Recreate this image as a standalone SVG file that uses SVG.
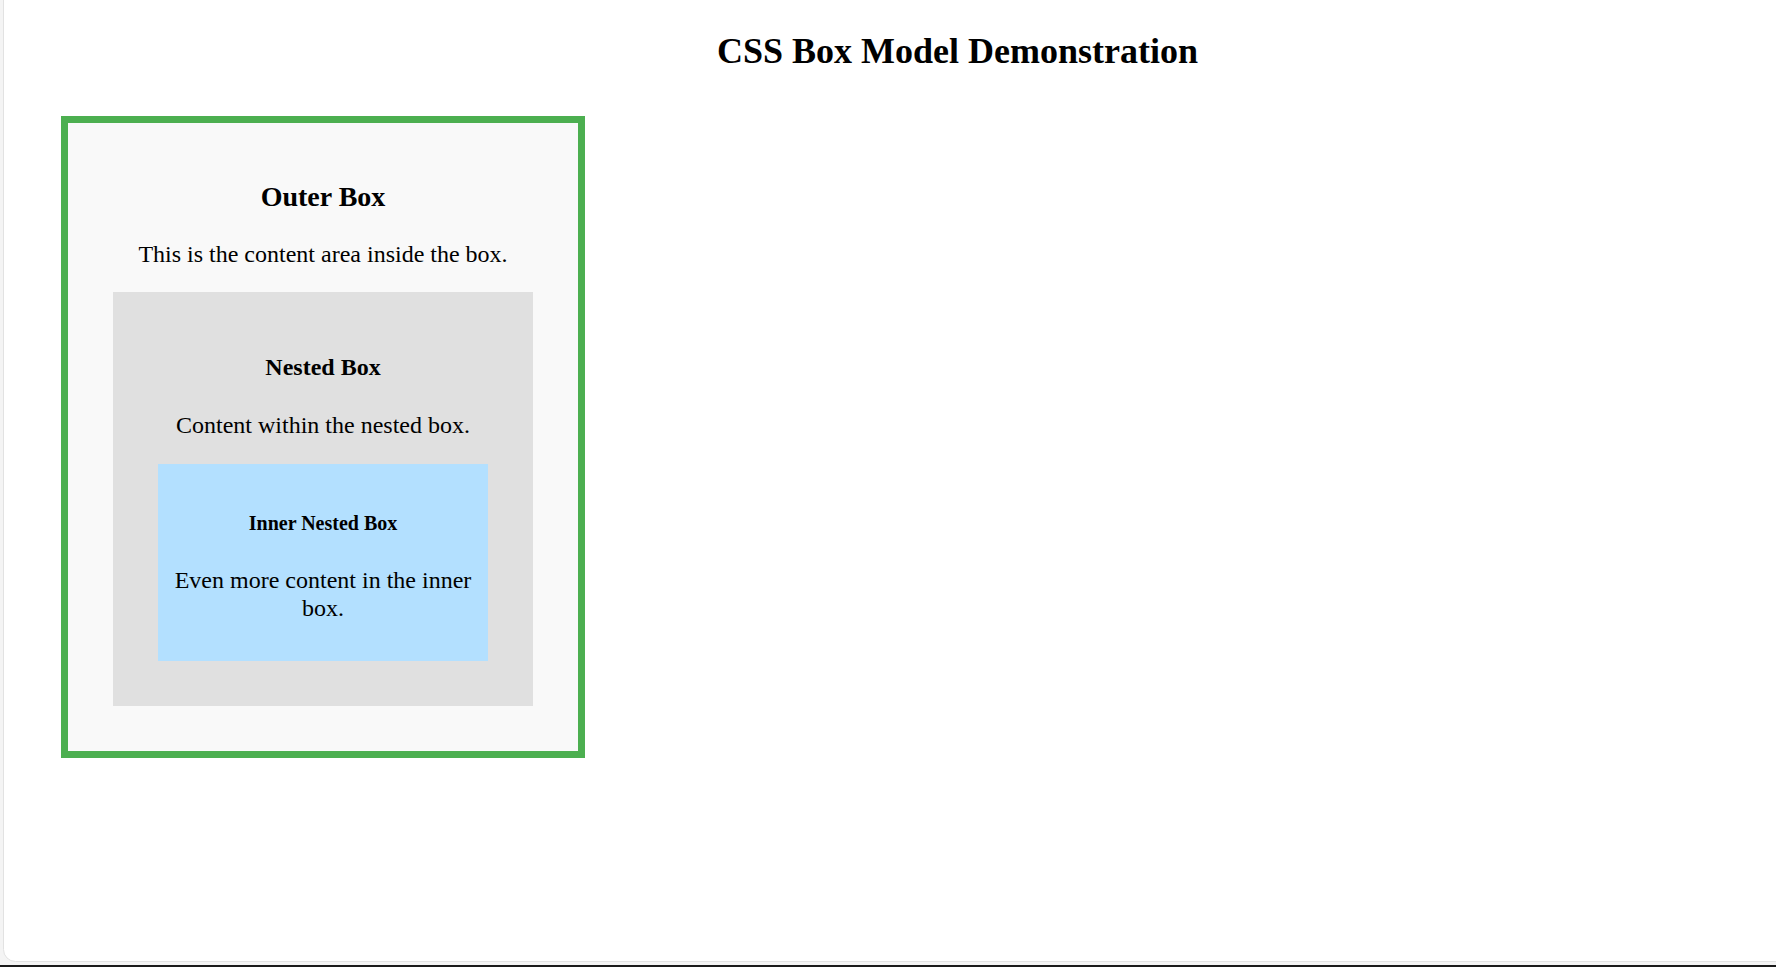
<svg xmlns="http://www.w3.org/2000/svg" width="1776" height="967" viewBox="0 0 1776 967">
<style>
text{font-family:"Liberation Serif","Times New Roman",serif;fill:#000;text-anchor:middle}
.b{font-weight:bold}
.p{font-size:24px}
</style>
<rect x="0" y="0" width="1776" height="967" fill="#f4f4f4"/>
<rect x="3.5" y="-12" width="1800" height="973.5" rx="12" fill="#ffffff" stroke="#e2e2e2" stroke-width="1"/>
<rect x="0" y="965" width="1776" height="2" fill="#1a1a1a"/>
<text class="b" x="957.5" y="63" font-size="36">CSS Box Model Demonstration</text>
<g id="outer-box">
<rect x="64.5" y="119.5" width="517" height="635" fill="#f9f9f9" stroke="#4caf50" stroke-width="7"/>
<text class="b" x="323" y="206" font-size="28">Outer Box</text>
<text class="p" x="323" y="261.7">This is the content area inside the box.</text>
</g>
<g id="nested-box">
<rect x="113" y="292" width="420" height="414" fill="#e0e0e0"/>
<text class="b" x="323" y="375" font-size="24">Nested Box</text>
<text class="p" x="323" y="433.3">Content within the nested box.</text>
</g>
<g id="inner-nested-box">
<rect x="158" y="464" width="330" height="197" fill="#b3e0ff"/>
<text class="b" x="323" y="530" font-size="20">Inner Nested Box</text>
<text class="p" x="323" y="588.3">Even more content in the inner</text>
<text class="p" x="323" y="615.7">box.</text>
</g>
<g id="connectors"/>
</svg>
